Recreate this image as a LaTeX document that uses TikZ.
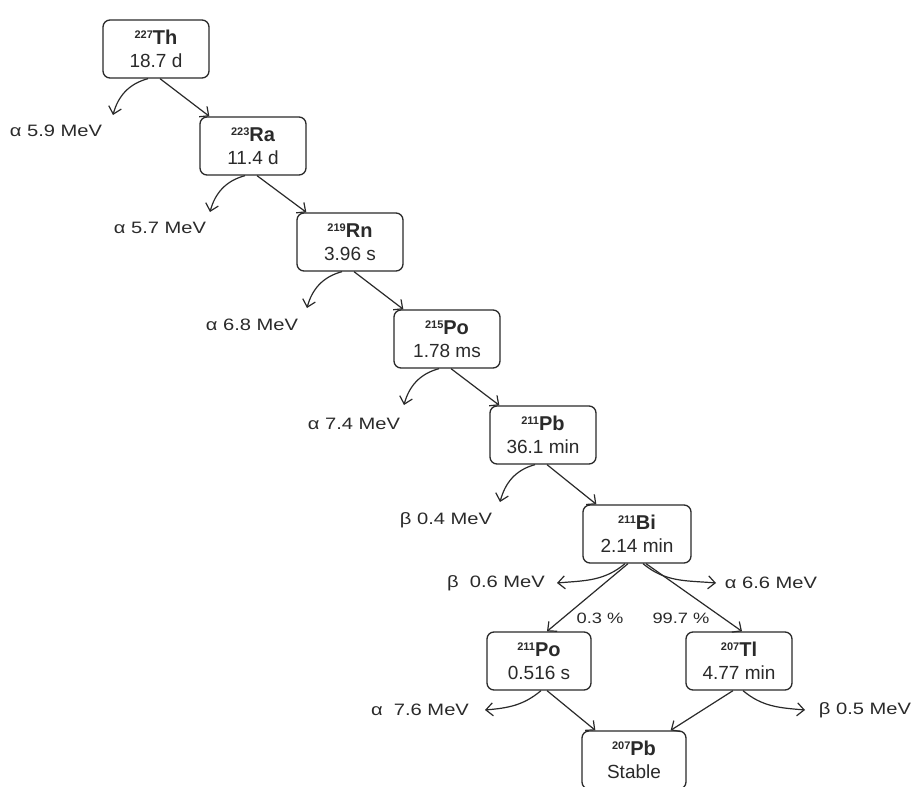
\documentclass[tikz,border=0pt]{standalone}
\usepackage{fontspec}
\setmainfont{Liberation Sans}
\newfontfamily\lblfont{Liberation Sans}[FakeStretch=1.22]
\usetikzlibrary{arrows.meta}
\definecolor{ink}{HTML}{2A2A2A}
\newcommand{\myiso}[2]{\raisebox{6pt}{\fontsize{11}{11}\selectfont\bfseries #1}{\fontsize{20}{22}\selectfont\bfseries #2}}
\newcommand{\myhl}[1]{{\fontsize{19}{22}\selectfont #1}}
\tikzset{
  nuc/.style={draw=ink, line width=1.3pt, rounded corners=7pt, minimum width=106pt,
    minimum height=58pt, align=center, inner sep=2pt, text=ink,
    font=\fontsize{19}{23}\selectfont},
  lbl/.style={text=ink, font=\lblfont\fontsize{16.5}{18}\selectfont, inner sep=0pt},
  pct/.style={text=ink, font=\lblfont\fontsize{15}{16}\selectfont, inner sep=0pt},
  arr/.style={draw=ink, line width=1.2pt, -{Straight Barb[length=7pt,width=13pt,line width=1.2pt]}},
}
\begin{document}
\begin{tikzpicture}[x=1pt,y=1pt]
\useasboundingbox[fill=white] (0,0) rectangle (919,-787);
% nuclide boxes
\node[nuc] (Th)  at (156,-49)  {\myiso{227}{Th}\\\myhl{18.7 d}};
\node[nuc] (Ra)  at (253,-146) {\myiso{223}{Ra}\\\myhl{11.4 d}};
\node[nuc] (Rn)  at (350,-242) {\myiso{219}{Rn}\\\myhl{3.96 s}};
\node[nuc] (PoA) at (447,-339) {\myiso{215}{Po}\\\myhl{1.78 ms}};
\node[nuc] (PbA) at (543,-435) {\myiso{211}{Pb}\\\myhl{36.1 min}};
\node[nuc, minimum width=108pt] (Bi)  at (637,-534) {\myiso{211}{Bi}\\\myhl{2.14 min}};
\node[nuc, minimum width=104pt] (PoB) at (539,-661) {\myiso{211}{Po}\\\myhl{0.516 s}};
\node[nuc] (Tl)  at (739,-661) {\myiso{207}{Tl}\\\myhl{4.77 min}};
\node[nuc, minimum width=104pt] (PbB) at (634,-760) {\myiso{207}{Pb}\\\myhl{Stable}};

% free ends of emission arrows
\coordinate (eTh)  at (113,-115);
\coordinate (eRa)  at (210,-212);
\coordinate (eRn)  at (307,-308);
\coordinate (ePoA) at (404,-405);
\coordinate (ePbA) at (500,-502);
\coordinate (eBiL) at (557,-583);
\coordinate (eBiR) at (716,-583);
\coordinate (ePoB) at (485,-710);
\coordinate (eTl)  at (805,-710);

% emission labels
\node[lbl] (lTh)  at (56,-131)  {α 5.9 MeV};
\node[lbl] (lRa)  at (160,-228) {α 5.7 MeV};
\node[lbl] (lRn)  at (252,-325) {α 6.8 MeV};
\node[lbl] (lPoA) at (354,-424) {α 7.4 MeV};
\node[lbl] (lPbA) at (446,-520) {β 0.4 MeV};
\node[lbl] (lBiL) at (496,-583) {β\ \ 0.6 MeV};
\node[lbl] (lBiR) at (771,-583) {α 6.6 MeV};
\node[lbl] (lPoB) at (420,-710) {α\ \ 7.6 MeV};
\node[lbl] (lTl)  at (865,-710) {β 0.5 MeV};
\node[pct] (p1) at (600,-618) {0.3 \%};
\node[pct] (p2) at (681,-618) {99.7 \%};

% decay chain (straight arrows)
\draw[arr] ([xshift=4pt]Th.south)  -- ([xshift=10pt]Ra.north west);
\draw[arr] ([xshift=4pt]Ra.south)  -- ([xshift=10pt]Rn.north west);
\draw[arr] ([xshift=4pt]Rn.south)  -- ([xshift=10pt]PoA.north west);
\draw[arr] ([xshift=4pt]PoA.south) -- ([xshift=10pt]PbA.north west);
\draw[arr] ([xshift=4pt]PbA.south) -- ([xshift=14pt]Bi.north west);
\draw[arr] ([xshift=-9pt]Bi.south) -- ([xshift=8pt]PoB.north);
\draw[arr] ([xshift=9pt]Bi.south)  -- ([xshift=3pt]Tl.north);
\draw[arr] ([xshift=8pt]PoB.south) -- ([xshift=14pt]PbB.north west);
\draw[arr] ([xshift=-6pt]Tl.south) -- ([xshift=-16pt]PbB.north east);

% emissions (curved arrows)
\draw[arr] ([xshift=-8pt]Th.south)  to[out=195,in=75] (eTh);
\draw[arr] ([xshift=-8pt]Ra.south)  to[out=195,in=75] (eRa);
\draw[arr] ([xshift=-8pt]Rn.south)  to[out=195,in=75] (eRn);
\draw[arr] ([xshift=-8pt]PoA.south) to[out=195,in=75] (ePoA);
\draw[arr] ([xshift=-8pt]PbA.south) to[out=195,in=75] (ePbA);
\draw[arr] ([xshift=-12pt]Bi.south) to[out=220,in=5] (eBiL);
\draw[arr] ([xshift=6pt]Bi.south)   to[out=-40,in=175] (eBiR);
\draw[arr] ([xshift=2pt]PoB.south)  to[out=-140,in=5] (ePoB);
\draw[arr] ([xshift=4pt]Tl.south)   to[out=-40,in=175] (eTl);
\end{tikzpicture}
\end{document}
